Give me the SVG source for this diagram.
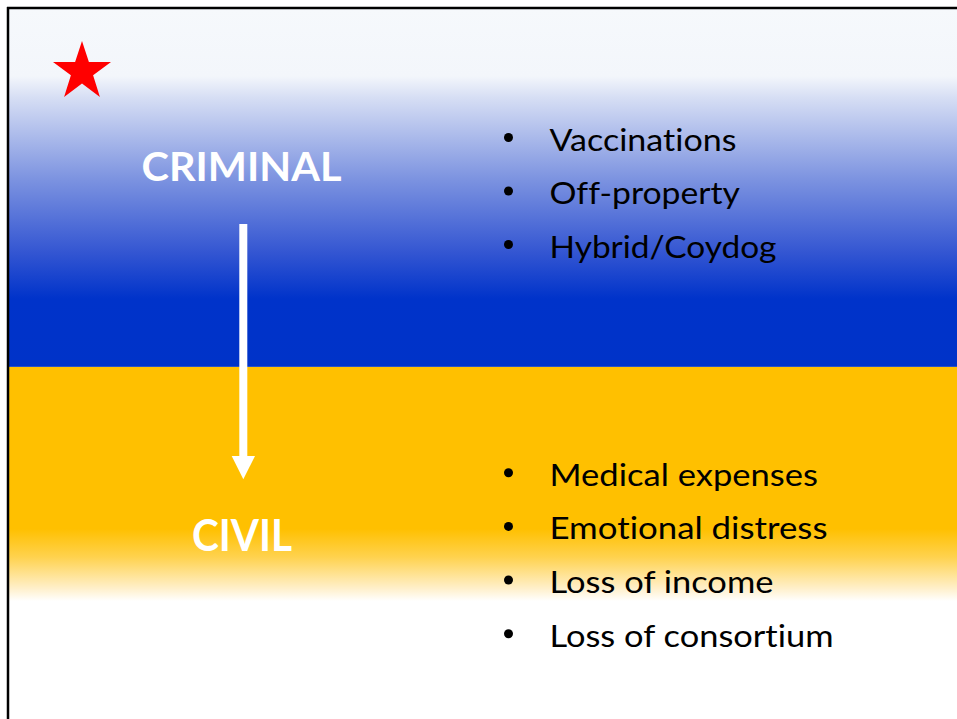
<svg xmlns="http://www.w3.org/2000/svg" width="957" height="719" viewBox="0 0 957 719">
  <defs>
    <linearGradient id="gBlue" x1="0" y1="8" x2="0" y2="367" gradientUnits="userSpaceOnUse">
      <stop offset="0" stop-color="#F6F9FC"/>
      <stop offset="0.19" stop-color="#F3F6FB"/>
      <stop offset="0.25" stop-color="#D6DEF4"/>
      <stop offset="0.48" stop-color="#7B92E0"/>
      <stop offset="0.68" stop-color="#3456D2"/>
      <stop offset="0.81" stop-color="#0033CA"/>
      <stop offset="1" stop-color="#0033C8"/>
    </linearGradient>
    <linearGradient id="gYellow" x1="0" y1="367" x2="0" y2="719" gradientUnits="userSpaceOnUse">
      <stop offset="0" stop-color="#FFC000"/>
      <stop offset="0.46" stop-color="#FFC000"/>
      <stop offset="0.54" stop-color="#FFD24E"/>
      <stop offset="0.63" stop-color="#FFF0CC"/>
      <stop offset="0.665" stop-color="#FFFFFF"/>
      <stop offset="1" stop-color="#FFFFFF"/>
    </linearGradient>
    <style>
      .head { font-family: Lato, "Liberation Sans", sans-serif; font-weight: bold; fill: #FFFFFF; }
      .item { font-family: Lato, "Liberation Sans", sans-serif; font-size: 30.7px; fill: #000000; font-variant-ligatures: none; }
      .dot { fill: #000000; }
    </style>
  </defs>

  <rect x="0" y="0" width="957" height="719" fill="#FFFFFF"/>

  <g id="criminal-band">
    <rect x="8" y="8" width="949" height="359" fill="url(#gBlue)"/>
    <line x1="8" y1="366.5" x2="957" y2="366.5" stroke="#2A52C4" stroke-width="1"/>
  </g>
  <g id="civil-band">
    <rect x="8" y="367" width="949" height="352" fill="url(#gYellow)"/>
  </g>

  <g id="frame">
    <line x1="7" y1="8" x2="957" y2="8" stroke="#000000" stroke-width="2.5"/>
    <line x1="8" y1="7" x2="8" y2="719" stroke="#000000" stroke-width="2.5"/>
  </g>

  <g id="star">
    <polygon fill="#FF0000" points="82,41 88.9,62 111,62 93.1,75.2 99.9,97 82,83.6 64.1,97 70.9,75.2 53,62 75.1,62"/>
  </g>

  <g id="criminal">
    <text class="head" x="141.5" y="180.7" font-size="39.6" textLength="200" lengthAdjust="spacingAndGlyphs">CRIMINAL</text>
  </g>
  <g id="civil">
    <text class="head" x="192" y="550.7" font-size="43.5" textLength="100" lengthAdjust="spacingAndGlyphs">CIVIL</text>
  </g>

  <g id="connectors">
    <rect x="239.3" y="224" width="8" height="233" fill="#FFFFFF"/>
    <polygon points="231.7,456 255,456 243.3,479.3" fill="#FFFFFF"/>
  </g>

  <g id="criminal-list">
    <circle class="dot" cx="508.5" cy="137.5" r="4.5"/>
    <text class="item" x="549.5" y="150.5" textLength="187" lengthAdjust="spacingAndGlyphs">Vaccinations</text>
    <circle class="dot" cx="508.5" cy="191" r="4.5"/>
    <text class="item" x="549.5" y="204" textLength="190.5" lengthAdjust="spacingAndGlyphs">Off-property</text>
    <circle class="dot" cx="508.5" cy="244.5" r="4.5"/>
    <text class="item" x="549.5" y="257.5" textLength="227" lengthAdjust="spacingAndGlyphs">Hybrid/Coydog</text>
  </g>

  <g id="civil-list">
    <circle class="dot" cx="508.5" cy="472.7" r="4.5"/>
    <text class="item" x="549.5" y="485.7" textLength="268.5" lengthAdjust="spacingAndGlyphs">Medical expenses</text>
    <circle class="dot" cx="508.5" cy="526.4" r="4.5"/>
    <text class="item" x="549.5" y="539.4" textLength="278" lengthAdjust="spacingAndGlyphs">Emotional distress</text>
    <circle class="dot" cx="508.5" cy="580" r="4.5"/>
    <text class="item" x="549.5" y="593" textLength="224" lengthAdjust="spacingAndGlyphs">Loss of income</text>
    <circle class="dot" cx="508.5" cy="633.7" r="4.5"/>
    <text class="item" x="549.5" y="646.7" textLength="284" lengthAdjust="spacingAndGlyphs">Loss of consortium</text>
  </g>
</svg>
